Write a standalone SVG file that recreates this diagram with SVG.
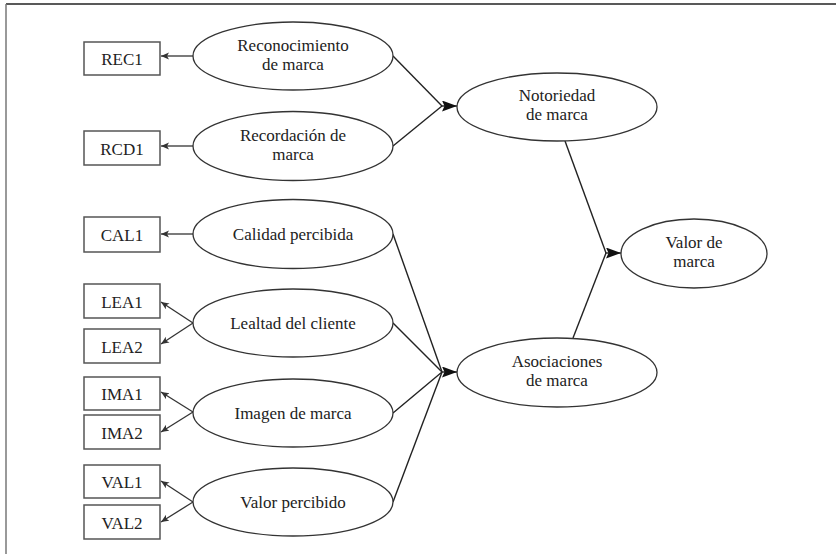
<svg xmlns="http://www.w3.org/2000/svg" width="836" height="554" viewBox="0 0 836 554">
<defs>
<style>
text{font-size:17px;fill:#222;text-anchor:middle}
.box{fill:#fff;stroke:#555;stroke-width:1.5}
.ell{fill:#fff;stroke:#333;stroke-width:1.3}
.ln{stroke:#222;stroke-width:1.4;fill:none}
.mln{stroke:#333;stroke-width:1.3;fill:none}
</style>
<marker id="big" markerWidth="17" markerHeight="12" refX="15" refY="5.5" orient="auto" markerUnits="userSpaceOnUse"><path d="M0,0 L15,5.5 L0,11 L2.5,5.5 z" fill="#111"/></marker>
<marker id="sm" markerWidth="10" markerHeight="8" refX="8" refY="3.5" orient="auto" markerUnits="userSpaceOnUse"><path d="M0,0 L8,3.5 L0,7 L2,3.5 z" fill="#333"/></marker>
</defs>
<rect width="836" height="554" fill="#fff"/>
<line x1="6" y1="4" x2="836" y2="4" stroke="#222" stroke-width="1.5"/>
<line x1="6" y1="4" x2="6" y2="554" stroke="#777" stroke-width="1.5"/>

<g id="connectors">
<line class="mln" x1="193" y1="56" x2="161" y2="56" marker-end="url(#sm)"/>
<line class="mln" x1="193" y1="146" x2="161" y2="146" marker-end="url(#sm)"/>
<line class="mln" x1="193" y1="234" x2="161" y2="234" marker-end="url(#sm)"/>
<line class="mln" x1="193" y1="323" x2="161" y2="302" marker-end="url(#sm)"/>
<line class="mln" x1="193" y1="323" x2="161" y2="344" marker-end="url(#sm)"/>
<line class="mln" x1="193" y1="412" x2="161" y2="392" marker-end="url(#sm)"/>
<line class="mln" x1="193" y1="412" x2="161" y2="432" marker-end="url(#sm)"/>
<line class="mln" x1="193" y1="502" x2="161" y2="481" marker-end="url(#sm)"/>
<line class="mln" x1="193" y1="502" x2="161" y2="522" marker-end="url(#sm)"/>

<line class="ln" x1="393" y1="56" x2="442" y2="106"/>
<line class="ln" x1="393" y1="146" x2="442" y2="106"/>
<line class="ln" x1="441" y1="106" x2="457" y2="106" marker-end="url(#big)"/>

<line class="ln" x1="393" y1="234" x2="442" y2="372"/>
<line class="ln" x1="393" y1="323" x2="442" y2="372"/>
<line class="ln" x1="393" y1="413" x2="442" y2="372"/>
<line class="ln" x1="393" y1="502" x2="442" y2="372"/>
<line class="ln" x1="441" y1="372" x2="457" y2="372" marker-end="url(#big)"/>

<line class="ln" x1="565" y1="141" x2="606" y2="253"/>
<line class="ln" x1="573" y1="338" x2="606" y2="253"/>
<line class="ln" x1="605" y1="253" x2="621" y2="253" marker-end="url(#big)"/>
</g>

<g font-family="'Liberation Serif', 'Times New Roman', 'DejaVu Serif', serif">
<g id="REC1"><rect class="box" x="84" y="42" width="76" height="33"/><text x="122" y="65">REC1</text></g>
<g id="RCD1"><rect class="box" x="84" y="131" width="76" height="34"/><text x="122" y="155">RCD1</text></g>
<g id="CAL1"><rect class="box" x="84" y="217" width="76" height="35"/><text x="122" y="241">CAL1</text></g>
<g id="LEA1"><rect class="box" x="84" y="284" width="76" height="34"/><text x="122" y="308">LEA1</text></g>
<g id="LEA2"><rect class="box" x="84" y="329" width="76" height="34"/><text x="122" y="353">LEA2</text></g>
<g id="IMA1"><rect class="box" x="84" y="377" width="76" height="33"/><text x="122" y="400">IMA1</text></g>
<g id="IMA2"><rect class="box" x="84" y="415" width="76" height="34"/><text x="122" y="439">IMA2</text></g>
<g id="VAL1"><rect class="box" x="84" y="465" width="76" height="33"/><text x="122" y="488">VAL1</text></g>
<g id="VAL2"><rect class="box" x="84" y="505" width="76" height="34"/><text x="122" y="529">VAL2</text></g>

<g id="reconocimiento"><ellipse class="ell" cx="293" cy="56" rx="100" ry="34"/><text x="293" y="50.5">Reconocimiento</text><text x="293" y="69.5">de marca</text></g>
<g id="recordacion"><ellipse class="ell" cx="293" cy="146" rx="100" ry="34.5"/><text x="293" y="140.5">Recordación de</text><text x="293" y="159.5">marca</text></g>
<g id="calidad"><ellipse class="ell" cx="293" cy="234" rx="100" ry="34.5"/><text x="293" y="240">Calidad percibida</text></g>
<g id="lealtad"><ellipse class="ell" cx="293" cy="323" rx="100" ry="34"/><text x="293" y="329">Lealtad del cliente</text></g>
<g id="imagen"><ellipse class="ell" cx="293" cy="413" rx="100" ry="34"/><text x="293" y="419">Imagen de marca</text></g>
<g id="valorper"><ellipse class="ell" cx="293" cy="502" rx="100" ry="34"/><text x="293" y="508">Valor percibido</text></g>

<g id="notoriedad"><ellipse class="ell" cx="557" cy="107" rx="100" ry="34"/><text x="557" y="101">Notoriedad</text><text x="557" y="120">de marca</text></g>
<g id="asociaciones"><ellipse class="ell" cx="557" cy="372.5" rx="100" ry="34.5"/><text x="557" y="366.5">Asociaciones</text><text x="557" y="385.5">de marca</text></g>
<g id="valormarca"><ellipse class="ell" cx="694" cy="253.5" rx="73" ry="34.5"/><text x="694" y="247.5">Valor de</text><text x="694" y="266.5">marca</text></g>
</g>
</svg>
